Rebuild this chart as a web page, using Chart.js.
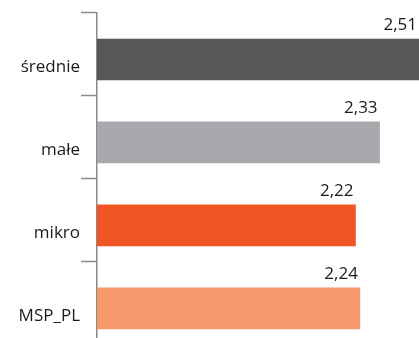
<!DOCTYPE html>
<html>
<head>
<meta charset="utf-8">
<script src="https://cdn.jsdelivr.net/npm/chart.js@4/dist/chart.umd.min.js"></script>
<style>
  html, body { margin: 0; padding: 0; background: #fff; overflow: hidden; }
  .chart-container { width: 419px; height: 338px; overflow: hidden; }
</style>
</head>
<body>
<div class="chart-container">
  <canvas id="firmy" width="419" height="356"></canvas>
</div>
<script>
const categories = ["średnie", "małe", "mikro", "MSP_PL"];
const values = [2.51, 2.33, 2.22, 2.24];
const barColors = ["#58585a", "#a7a8ab", "#f05623", "#f7996c"];

const FONT = "'Open Sans', sans-serif";
const BAR_SHIFT = 5; // bars sit a little below the middle of each band

const shiftBars = {
  id: "shiftBars",
  beforeDatasetsDraw(chart) {
    chart.ctx.save();
    chart.ctx.translate(0, BAR_SHIFT);
  },
  afterDatasetsDraw(chart) {
    chart.ctx.restore();
  },
};

// value written above the end of each bar, with a decimal comma
const valueLabels = {
  id: "valueLabels",
  afterDatasetsDraw(chart) {
    const ctx = chart.ctx;
    const meta = chart.getDatasetMeta(0);
    ctx.save();
    ctx.font = "17px " + FONT;
    ctx.fillStyle = "#1a1a1a";
    ctx.textAlign = "right";
    ctx.textBaseline = "alphabetic";
    meta.data.forEach((bar, i) => {
      const x = Math.min(bar.x, chart.chartArea.right) - 2;
      const y = bar.y - bar.height / 2 - 9 + BAR_SHIFT;
      ctx.fillText(values[i].toFixed(2).replace(".", ","), x, y);
    });
    ctx.restore();
  },
};

const ctx = document.getElementById("firmy").getContext("2d");
new Chart(ctx, {
  type: "bar",
  data: {
    labels: categories,
    datasets: [
      {
        data: values,
        backgroundColor: barColors,
        borderWidth: 0,
        barThickness: 41,
      },
    ],
  },
  options: {
    indexAxis: "y",
    responsive: false,
    animation: false,
    layout: { padding: { top: 13, right: 0, bottom: 0, left: 0 } },
    plugins: {
      legend: { display: false },
      tooltip: { enabled: false },
    },
    scales: {
      x: {
        display: false,
        min: 1.04,
        max: 2.51,
      },
      y: {
        offset: true,
        border: { display: true, color: "#8a8a8a", width: 1.5 },
        grid: {
          offset: true,
          drawOnChartArea: false,
          drawTicks: true,
          tickLength: 16,
          tickColor: "#8a8a8a",
          tickWidth: 1.5,
        },
        ticks: {
          padding: 1,
          labelOffset: 13,
          color: "#1a1a1a",
          font: { family: FONT, size: 17 },
        },
        afterFit(scale) {
          scale.width = 97;
        },
      },
    },
  },
  plugins: [shiftBars, valueLabels],
});
</script>
</body>
</html>
